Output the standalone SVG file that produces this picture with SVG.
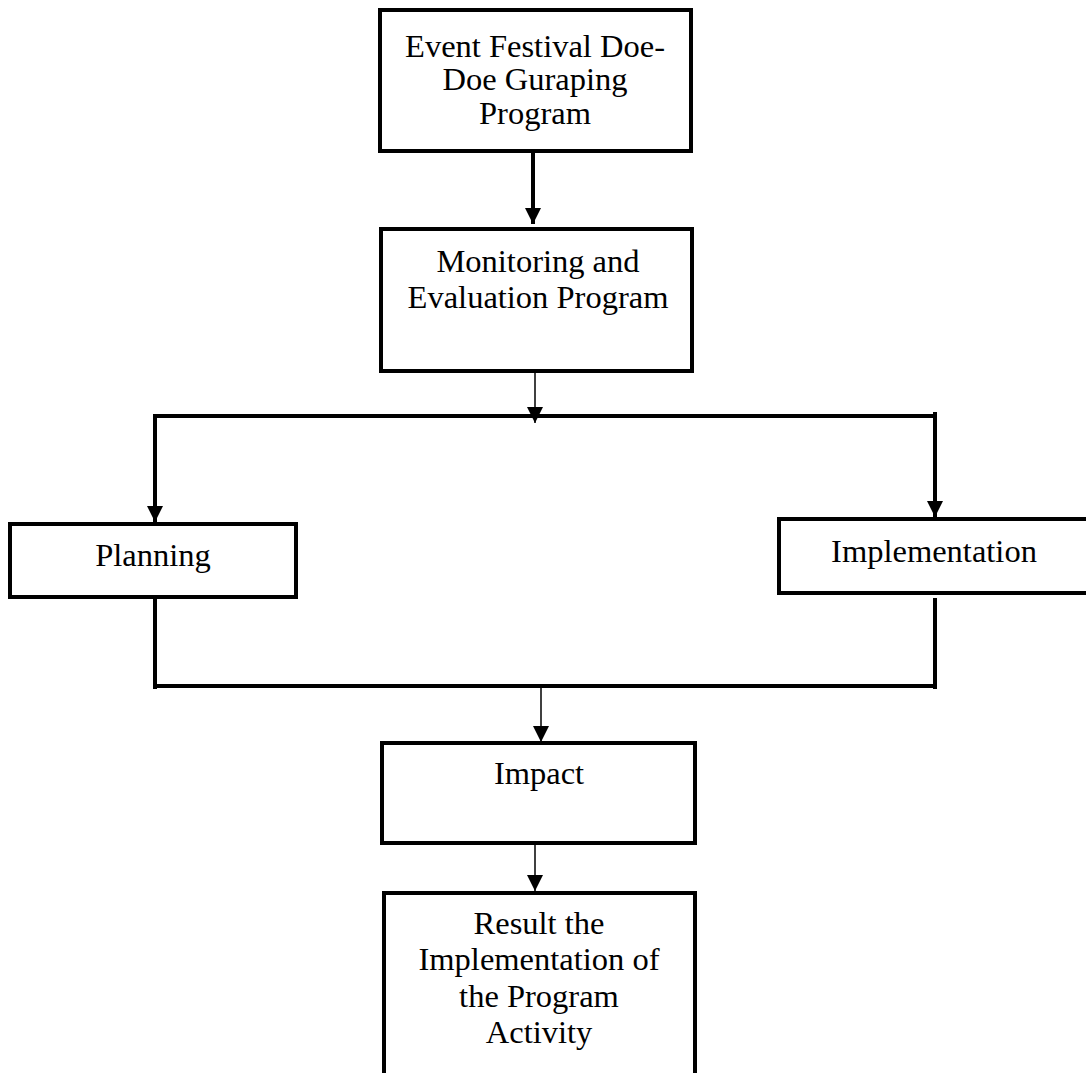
<svg xmlns="http://www.w3.org/2000/svg" width="1086" height="1073" viewBox="0 0 1086 1073">
<style>
.box{fill:#fff;stroke:#000;stroke-width:4}
.t{font-family:"Liberation Serif","Times New Roman",serif;font-size:32.5px;fill:#000;text-anchor:middle}
.thick{stroke:#000;stroke-width:4;fill:none}
.thin{stroke:#000;stroke-width:1.5;fill:none}
</style>
<defs>
<marker id="ah" viewBox="0 0 16 16" refX="16" refY="8" markerWidth="16" markerHeight="16" markerUnits="userSpaceOnUse" orient="auto">
<path d="M0,0 L16,8 L0,16 z" fill="#000"/>
</marker>
</defs>
<rect width="1086" height="1073" fill="#fff"/>
<g id="connectors">
<line class="thick" x1="533" y1="151" x2="533" y2="224" marker-end="url(#ah)"/>
<line class="thin" x1="535" y1="372" x2="535" y2="423" marker-end="url(#ah)"/>
<line class="thick" x1="153" y1="416" x2="937" y2="416"/>
<line class="thick" x1="155" y1="414" x2="155" y2="522" marker-end="url(#ah)"/>
<line class="thick" x1="935" y1="412" x2="935" y2="517" marker-end="url(#ah)"/>
<path class="thick" d="M155,597 V689"/>
<path class="thick" d="M935,598 V689"/>
<line class="thick" x1="153" y1="686" x2="937" y2="686"/>
<line class="thin" x1="541" y1="686" x2="541" y2="742" marker-end="url(#ah)"/>
<line class="thin" x1="535" y1="836" x2="535" y2="891" marker-end="url(#ah)"/>
</g>
<g id="node-event">
<rect class="box" x="380" y="10" width="311" height="141"/>
<text class="t" x="535" y="57">Event Festival Doe-</text>
<text class="t" x="535" y="90">Doe Guraping</text>
<text class="t" x="535" y="124">Program</text>
</g>
<g id="node-monitoring">
<rect class="box" x="381" y="229" width="311" height="142"/>
<text class="t" x="538" y="272">Monitoring and</text>
<text class="t" x="538" y="308">Evaluation Program</text>
</g>
<g id="node-planning">
<rect class="box" x="10" y="524" width="286" height="73"/>
<text class="t" x="153" y="566">Planning</text>
</g>
<g id="node-implementation">
<rect class="box" x="779" y="519" width="320" height="74"/>
<text class="t" x="934" y="562">Implementation</text>
</g>
<g id="node-impact">
<rect class="box" x="382" y="743" width="313" height="100"/>
<text class="t" x="539" y="784">Impact</text>
</g>
<g id="node-result">
<rect class="box" x="384" y="893" width="311" height="200"/>
<text class="t" x="539" y="934">Result the</text>
<text class="t" x="539" y="970">Implementation of</text>
<text class="t" x="539" y="1007">the Program</text>
<text class="t" x="539" y="1043">Activity</text>
</g>
</svg>
